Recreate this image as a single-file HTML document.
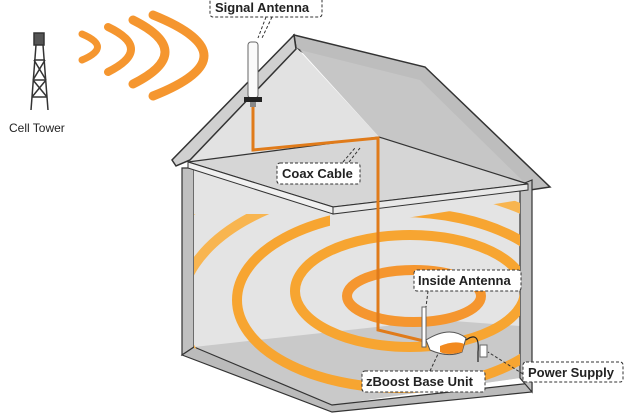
<!DOCTYPE html>
<html><head><style>
html,body{margin:0;padding:0;background:#fff;width:630px;height:419px;overflow:hidden;}
svg{display:block;font-family:"Liberation Sans",sans-serif;}
.lbl{font-weight:bold;font-size:13px;fill:#222;}
.box{fill:#fff;stroke:#333;stroke-width:1;stroke-dasharray:3,2;}
.arc{fill:none;stroke:#f7a531;stroke-width:10;}
</style></head><body>
<svg width="630" height="419" viewBox="0 0 630 419">
<defs>
<clipPath id="inside"><polygon points="194,214 330,214 330,230 520,200 520,378 332,405 194,348"/></clipPath>
</defs>
<!-- signal arcs -->
<g fill="none" stroke="#f5962f" stroke-linecap="round">
<path d="M82,34 Q113,47 82,60" stroke-width="7"/>
<path d="M108,27 Q154,49 108,72" stroke-width="8"/>
<path d="M133,20 Q197,52 133,84" stroke-width="9"/>
<path d="M153,15 Q255,56 153,96" stroke-width="9"/>
</g>
<!-- cell tower -->
<g stroke="#333" stroke-width="1.5" fill="none">
<rect x="34" y="33" width="10" height="12" fill="#555"/>
<line x1="36" y1="45" x2="31" y2="110"/><line x1="43" y1="45" x2="48" y2="110"/>
<line x1="34" y1="60" x2="45" y2="60"/><line x1="33" y1="80" x2="46" y2="80"/><line x1="32" y1="97" x2="47" y2="97"/>
<line x1="34" y1="60" x2="46" y2="80"/><line x1="45" y1="60" x2="33" y2="80"/>
<line x1="33" y1="80" x2="47" y2="97"/><line x1="46" y1="80" x2="32" y2="97"/>
</g>
<text x="9" y="132" font-size="12" fill="#222">Cell Tower</text>
<!-- roof right slope -->
<polygon points="294,35 425,67 550,187 530,190 296,48" fill="#bdbdbd" stroke="#333" stroke-width="1.5"/>
<polygon points="300,50 420,80 528,186 380,138" fill="#c6c6c6"/>
<!-- gable front -->
<polygon points="294,45 180,163 380,138" fill="#e2e2e2"/>
<polygon points="294,35 172,160 176,166 190,160 296,49" fill="#d0d0d0" stroke="#333" stroke-width="1.5"/>
<!-- walls -->
<polygon points="182,168 194,168 194,347 182,355" fill="#c0c0c0" stroke="#333" stroke-width="1.2"/>
<polygon points="194,170 330,210 520,185 520,378 332,405 194,347" fill="#e4e4e4"/>
<!-- floor -->
<polygon points="194,347 440,320 520,326 520,378 332,405" fill="#c9c9c9"/>
<polygon points="182,355 332,412 532,392 532,383 332,405 194,347" fill="#bbb" stroke="#333" stroke-width="1.2"/>
<polygon points="520,185 532,180 532,392 520,378" fill="#c0c0c0" stroke="#333" stroke-width="1.2"/>
<!-- arcs inside -->
<g clip-path="url(#inside)">
<ellipse class="arc" cx="414" cy="296" rx="67" ry="26" style="stroke:#f5962f"/>
<ellipse class="arc" cx="410" cy="291" rx="115" ry="56"/>
<ellipse class="arc" cx="400" cy="300" rx="163" ry="88"/>
<ellipse class="arc" cx="395" cy="310" rx="215" ry="125" style="stroke:#f8b550"/>
<ellipse class="arc" cx="390" cy="320" rx="265" ry="165" style="stroke:#f9c263"/>
</g>
<!-- attic floor -->
<polygon points="188,162 379,137 528,184 333,207" fill="#d6d6d6" stroke="#333" stroke-width="1.2"/>
<polygon points="188,162 333,207 333,214 188,168" fill="#f0f0f0" stroke="#333" stroke-width="1"/>
<polygon points="333,207 528,184 528,190 333,214" fill="#e8e8e8" stroke="#333" stroke-width="1"/>
<!-- cable -->
<polyline points="253,105 253,150 378,138 378,330 428,342" fill="none" stroke="#e07b1a" stroke-width="3"/>
<!-- signal antenna -->
<rect x="248" y="42" width="10" height="56" rx="3" fill="#fafafa" stroke="#666"/>
<rect x="244" y="97" width="18" height="5" fill="#222"/>
<rect x="250" y="102" width="6" height="5" fill="#888"/>
<!-- base unit -->
<rect x="422" y="307" width="4" height="40" fill="#fff" stroke="#666"/>
<path d="M426,340 Q450,325 466,338 L462,352 Q448,358 430,350 Z" fill="#fff" stroke="#555"/>
<path d="M440,346 Q455,340 464,344 L462,352 Q448,356 440,352 Z" fill="#f28a1f"/>
<path d="M466,340 Q480,330 478,352 L478,362" fill="none" stroke="#222" stroke-width="1.2"/>
<rect x="480" y="345" width="7" height="12" fill="#fff" stroke="#666"/>
<!-- connectors -->
<g stroke="#333" stroke-dasharray="3,2" fill="none">
<path d="M266,17 L258,38 M272,17 L262,38"/>
<path d="M343,162 L355,148 M349,162 L360,148"/>
<path d="M428,291 L426,307"/>
<path d="M430,371 L438,354"/>
<path d="M523,374 L488,352"/>
</g>
<!-- labels -->
<rect class="box" x="210" y="-3" width="112" height="20" rx="3"/>
<text class="lbl" x="215" y="12">Signal Antenna</text>
<rect class="box" x="277" y="163" width="83" height="21" rx="3"/>
<text class="lbl" x="282" y="178">Coax Cable</text>
<rect class="box" x="414" y="270" width="107" height="21" rx="3"/>
<text class="lbl" x="418" y="285">Inside Antenna</text>
<rect class="box" x="362" y="371" width="123" height="21" rx="3"/>
<text class="lbl" x="366" y="386">zBoost Base Unit</text>
<rect class="box" x="523" y="362" width="100" height="20" rx="3"/>
<text class="lbl" x="528" y="377">Power Supply</text>
</svg>
</body></html>
